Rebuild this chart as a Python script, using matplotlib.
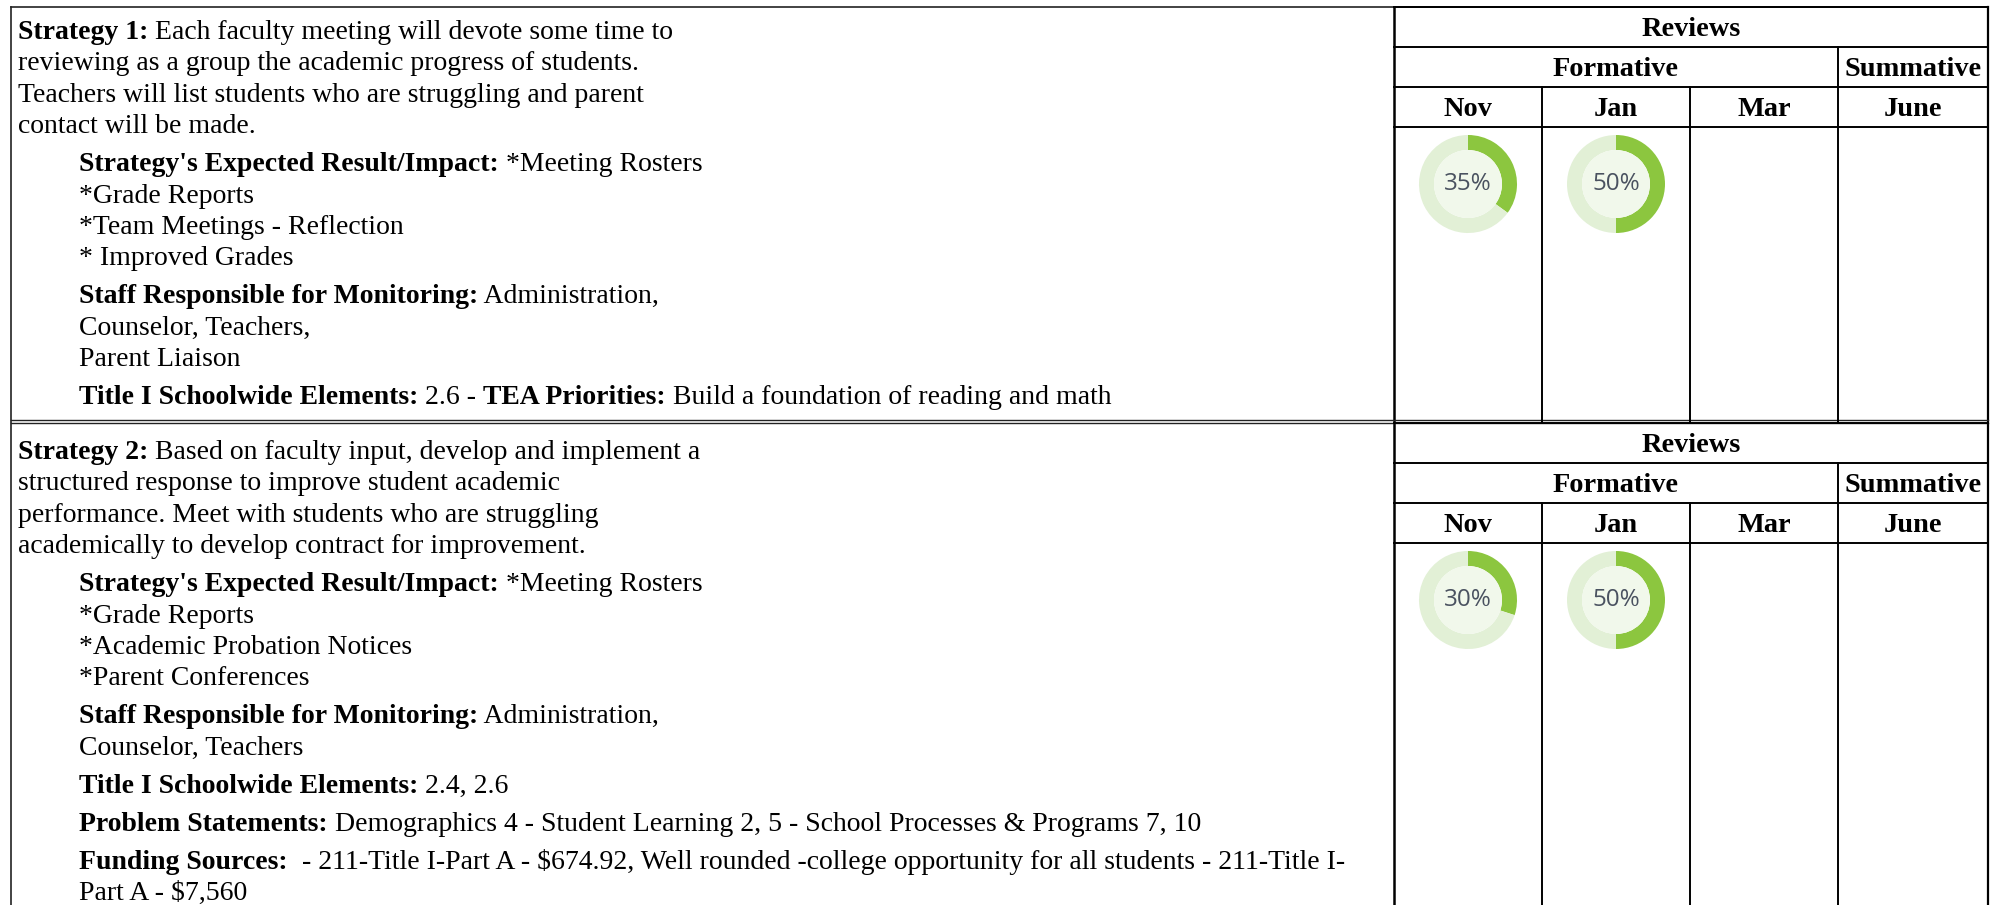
import matplotlib
matplotlib.use("Agg")
import matplotlib.pyplot as plt
from matplotlib.patches import Circle

plt.rcParams['font.family'] = ['Liberation Serif', 'DejaVu Serif']

W, H = 1997, 905

# ---- data ----
months = ["Nov", "Jan", "Mar", "June"]
review_groups = ["Formative", "Summative"]
s1_progress = [35, 50, None, None]
s2_progress = [30, 50, None, None]

# each paragraph = list of lines, each line = list of (text, bold)
s1_text = [
    [[("Strategy 1:", True), (" Each faculty meeting will devote some time to", False)],
     [("reviewing as a group the academic progress of students.", False)],
     [("Teachers will list students who are struggling and parent", False)],
     [("contact will be made.", False)]],
    [[("Strategy's Expected Result/Impact:", True), (" *Meeting Rosters", False)],
     [("*Grade Reports", False)],
     [("*Team Meetings - Reflection", False)],
     [("* Improved Grades", False)]],
    [[("Staff Responsible for Monitoring:", True), (" Administration,", False)],
     [("Counselor, Teachers,", False)],
     [("Parent Liaison", False)]],
    [[("Title I Schoolwide Elements:", True), (" 2.6 - ", False), ("TEA Priorities:", True),
      (" Build a foundation of reading and math", False)]],
]
s2_text = [
    [[("Strategy 2:", True), (" Based on faculty input, develop and implement a", False)],
     [("structured response to improve student academic", False)],
     [("performance. Meet with students who are struggling", False)],
     [("academically to develop contract for improvement.", False)]],
    [[("Strategy's Expected Result/Impact:", True), (" *Meeting Rosters", False)],
     [("*Grade Reports", False)],
     [("*Academic Probation Notices", False)],
     [("*Parent Conferences", False)]],
    [[("Staff Responsible for Monitoring:", True), (" Administration,", False)],
     [("Counselor, Teachers", False)]],
    [[("Title I Schoolwide Elements:", True), (" 2.4, 2.6", False)]],
    [[("Problem Statements:", True),
      (" Demographics 4 - Student Learning 2, 5 - School Processes & Programs 7, 10", False)]],
    [[("Funding Sources:", True),
      ("  - 211-Title I-Part A - $674.92, Well rounded -college opportunity for all students - 211-Title I-", False)],
     [("Part A - $7,560", False)]],
]

# ---- layout ----
FS = 20
HFS = 20.4
LEFT, DIV, RIGHT, TOP = 11, 1394, 1988, 7
cols = [1394, 1542, 1690, 1838, 1988]
ROW_H = 40
LINE_H = 31.4
PARA_GAP = 38
GREEN, LIGHT, INNER = '#8cc63f', '#e2f0d6', '#f1f8eb'

fig = plt.figure(figsize=(W / 100, H / 100), dpi=100)
ax = fig.add_axes([0, 0, 1, 1])
renderer = fig.canvas.get_renderer()


def text_width(s, bold):
    # measure with bars around so leading/trailing spaces count
    kw = dict(fontsize=FS, fontweight='bold' if bold else 'normal', parse_math=False)
    a = ax.text(0, 0, "|" + s + "|", **kw)
    b = ax.text(0, 0, "||", **kw)
    w = a.get_window_extent(renderer).width - b.get_window_extent(renderer).width
    a.remove()
    b.remove()
    return w


def draw_block(paras, y0, x0=18, x_ind=79):
    y = y0
    for i, para in enumerate(paras):
        if i > 0:
            y += PARA_GAP
        xs = x0 if i == 0 else x_ind
        for j, line in enumerate(para):
            if j > 0:
                y += LINE_H
            x = xs
            for txt, bold in line:
                ax.text(x, y, txt, fontsize=FS, fontweight='bold' if bold else 'normal',
                        va='baseline', ha='left', parse_math=False, color='black')
                x += text_width(txt, bold)


def draw_reviews(top, progress):
    lw = 1.4
    # header rows
    for k in range(4):
        ax.plot([DIV, RIGHT], [top + k * ROW_H] * 2, color='black', lw=lw)
    hy = [top + ROW_H * (k + 0.55) for k in range(3)]
    ax.text((DIV + RIGHT) / 2, hy[0], "Reviews", fontsize=HFS, fontweight='bold',
            ha='center', va='center')
    ax.text((cols[0] + cols[3]) / 2, hy[1], review_groups[0], fontsize=HFS,
            fontweight='bold', ha='center', va='center')
    ax.text((cols[3] + cols[4]) / 2, hy[1], review_groups[1], fontsize=HFS,
            fontweight='bold', ha='center', va='center')
    for c, m in enumerate(months):
        ax.text((cols[c] + cols[c + 1]) / 2, hy[2], m, fontsize=HFS,
                fontweight='bold', ha='center', va='center')
    # column dividers
    bottom = top + 415 if top < 100 else H
    for c in (1, 2):
        ax.plot([cols[c]] * 2, [top + 2 * ROW_H, bottom], color='black', lw=lw)
    ax.plot([cols[3]] * 2, [top + ROW_H, bottom], color='black', lw=lw)
    # progress donuts
    cy = top + 3 * ROW_H + 57
    for c, pct in enumerate(progress):
        if pct is None:
            continue
        cx = (cols[c] + cols[c + 1]) / 2
        ax.pie([pct, 100 - pct], colors=[GREEN, LIGHT], startangle=-90, counterclock=True,
               center=(cx, cy), radius=49, frame=True,
               wedgeprops=dict(width=15, linewidth=0))
        ax.add_patch(Circle((cx, cy), 34, facecolor=INNER, edgecolor='none'))
        ax.text(cx, cy, f"{pct}%", fontsize=17.5, family='Open Sans', color='#4a5260',
                ha='center', va='center')


# outer frame
ax.plot([LEFT, RIGHT], [TOP, TOP], color='#222222', lw=1.2)
ax.plot([LEFT, LEFT], [TOP, H], color='#222222', lw=1.2)
ax.plot([RIGHT, RIGHT], [TOP, H], color='black', lw=1.6)
ax.plot([DIV, DIV], [TOP, H], color='black', lw=1.8)
# double separator between strategies
ax.plot([LEFT, RIGHT], [419.5, 419.5], color='#222222', lw=1.0)
ax.plot([LEFT, RIGHT], [423, 423], color='#222222', lw=1.0)

draw_block(s1_text, 39)
draw_block(s2_text, 459)
draw_reviews(TOP, s1_progress)
draw_reviews(423, s2_progress)

ax.set_xlim(0, W)
ax.set_ylim(H, 0)
ax.set_aspect('auto')
ax.axis('off')
fig.savefig("out.png", dpi=100, facecolor='white')
